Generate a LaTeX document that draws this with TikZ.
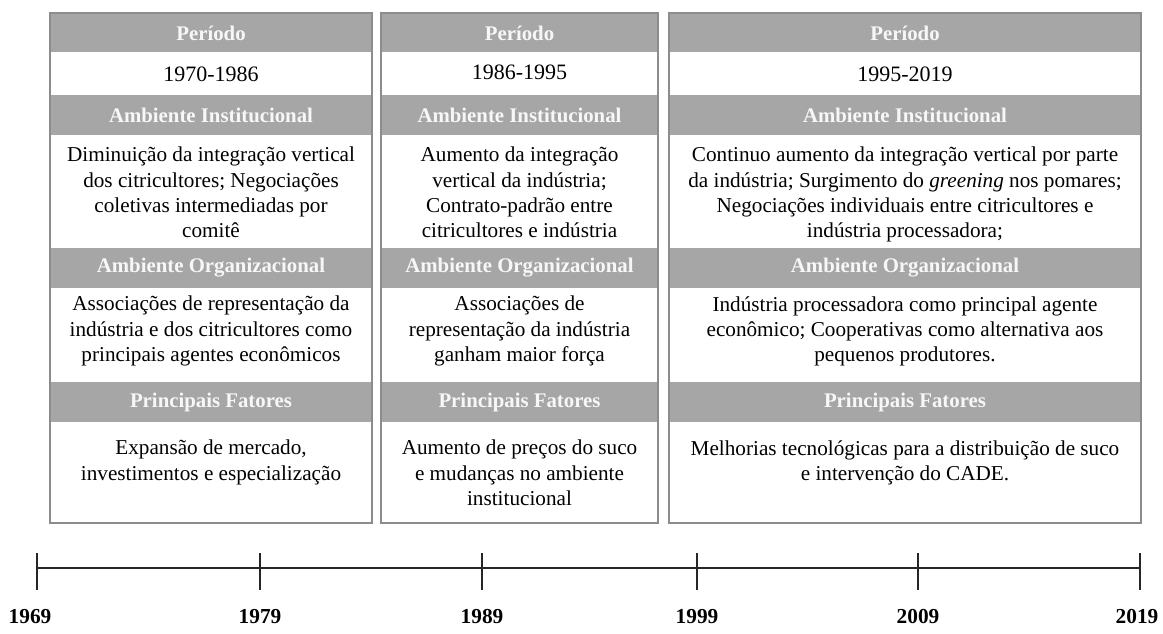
\documentclass[tikz,border=0pt]{standalone}
\usepackage{fontspec}
\setmainfont{Liberation Serif}
\definecolor{bandc}{HTML}{A6A6A6}
\definecolor{framec}{HTML}{8C8C8C}
\definecolor{headtext}{HTML}{F7F7F7}
\begin{document}
\begin{tikzpicture}[x=0.75pt,y=-0.75pt,
  head/.style={text=headtext, font=\fontsize{15.6}{18}\selectfont\bfseries, anchor=center, inner sep=0pt},
  period/.style={font=\fontsize{16.5}{19}\selectfont, anchor=center, inner sep=0pt},
  body/.style={font=\fontsize{15.9}{18.9}\selectfont, align=center, anchor=north, inner sep=0pt},
  yearlab/.style={font=\fontsize{16}{19}\selectfont\bfseries, anchor=center, inner sep=0pt},
  axis/.style={line width=1.5pt, draw=black!85},
  frame/.style={draw=framec, line width=1.3pt}]
\useasboundingbox (0,0) rectangle (1163,634);

% column backgrounds and frames
\foreach \l/\r in {50/372, 381/658, 669/1141} {
  \fill[white] (\l,13) rectangle (\r,523);
  \fill[bandc] (\l,13) rectangle (\r,52);
  \fill[bandc] (\l,95) rectangle (\r,135);
  \fill[bandc] (\l,248) rectangle (\r,288);
  \fill[bandc] (\l,382) rectangle (\r,422);
  \draw[frame] (\l,13) rectangle (\r,523);
}

% column 1
\node[head] (p1) at (211,33) {Período};
\node[period] (y1) at (211,74) {1970-1986};
\node[head] (ai1) at (211,115) {Ambiente Institucional};
\node[body] (bi1) at (211,147) {Diminuição da integração vertical\\dos citricultores; Negociações\\coletivas intermediadas por\\comitê};
\node[head] (ao1) at (211,268) {Ambiente Organizacional};
\node[body] (bo1) at (211,296) {Associações de representação da\\indústria e dos citricultores como\\principais agentes econômicos};
\node[head] (pf1) at (211,402) {Principais Fatores};
\node[body] (bf1) at (211,440) {Expansão de mercado,\\investimentos e especialização};

% column 2
\node[head] (p2) at (519.5,33) {Período};
\node[period] (y2) at (519.5,72) {1986-1995};
\node[head] (ai2) at (519.5,115) {Ambiente Institucional};
\node[body] (bi2) at (519.5,147) {Aumento da integração\\vertical da indústria;\\Contrato-padrão entre\\citricultores e indústria};
\node[head] (ao2) at (519.5,268) {Ambiente Organizacional};
\node[body] (bo2) at (519.5,296) {Associações de\\representação da indústria\\ganham maior força};
\node[head] (pf2) at (519.5,402) {Principais Fatores};
\node[body] (bf2) at (519.5,440) {Aumento de preços do suco\\e mudanças no ambiente\\institucional};

% column 3
\node[head] (p3) at (905,33) {Período};
\node[period] (y3) at (905,74) {1995-2019};
\node[head] (ai3) at (905,115) {Ambiente Institucional};
\node[body] (bi3) at (905,147) {Continuo aumento da integração vertical por parte\\da indústria; Surgimento do \textit{greening} nos pomares;\\Negociações individuais entre citricultores e\\indústria processadora;};
\node[head] (ao3) at (905,268) {Ambiente Organizacional};
\node[body] (bo3) at (905,296) {Indústria processadora como principal agente\\econômico; Cooperativas como alternativa aos\\pequenos produtores.};
\node[head] (pf3) at (905,402) {Principais Fatores};
\node[body] (bf3) at (905,440) {Melhorias tecnológicas para a distribuição de suco\\e intervenção do CADE.};

% timeline
\foreach \n/\x in {0/37, 1/260, 2/482, 3/697, 4/918, 5/1140} {
  \coordinate (t\n) at (\x,568);
  \coordinate (t\n u) at (\x,553);
  \coordinate (t\n d) at (\x,590);
  \draw[axis] (t\n u) -- (t\n d);
}
\draw[axis] (t0) -- (t5);

\node[yearlab] (l0) at (30,617) {1969};
\node[yearlab] (l1) at (260,617) {1979};
\node[yearlab] (l2) at (482,617) {1989};
\node[yearlab] (l3) at (697,617) {1999};
\node[yearlab] (l4) at (918,617) {2009};
\node[yearlab] (l5) at (1137,617) {2019};
\end{tikzpicture}
\end{document}
